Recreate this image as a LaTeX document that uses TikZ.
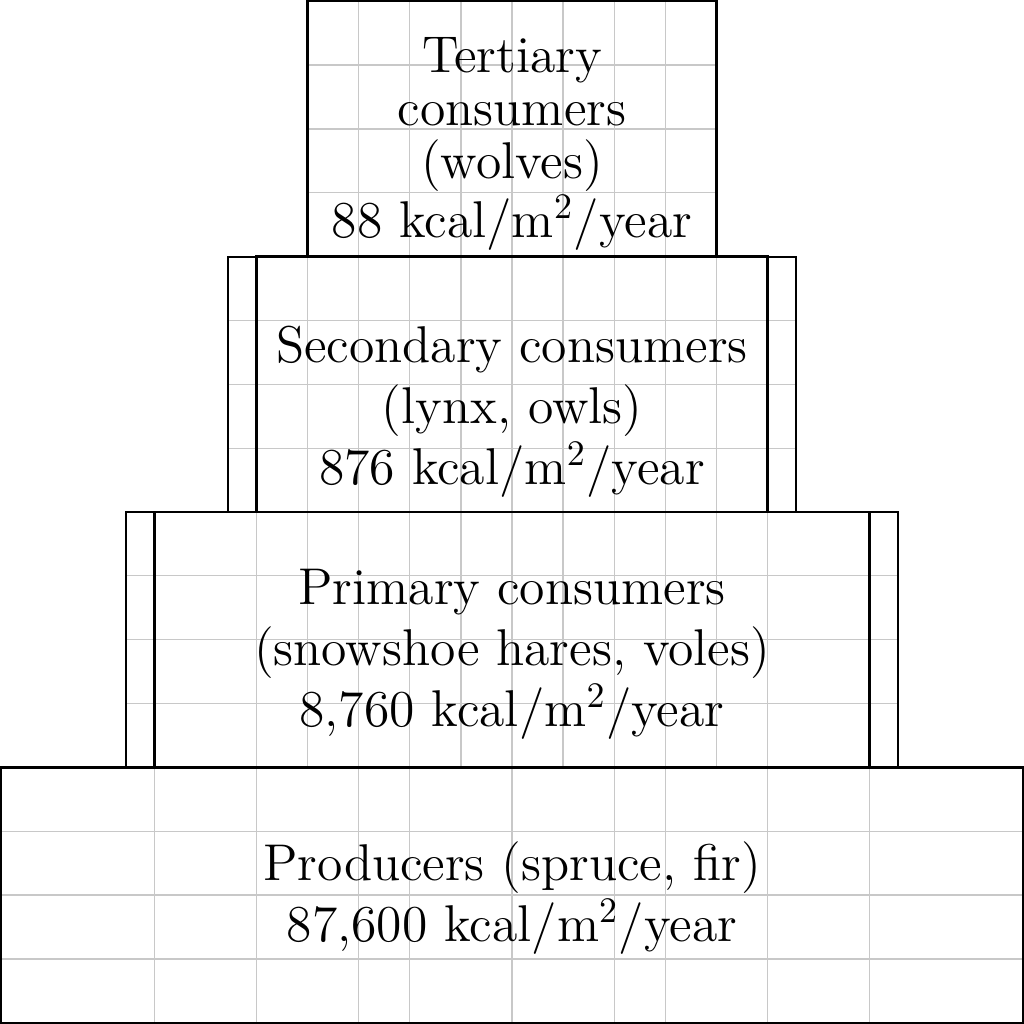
\documentclass[tikz,border=0pt]{standalone}
\usetikzlibrary{positioning}
\definecolor{gridc}{RGB}{200,200,200}
\tikzset{
  gridline/.style={draw=gridc, line width=0.35pt},
  tier/.style={draw=black, line width=0.7pt, rectangle, inner sep=0pt, fill=none},
  outertier/.style={draw=black, line width=0.55pt, rectangle, inner sep=0pt, fill=none},
  label/.style={align=center, font=\fontsize{14.4}{17}\selectfont, inner sep=0pt},
  tightlabel/.style={align=center, font=\fontsize{14.4}{14.8}\selectfont, inner sep=0pt}
}
\begin{document}
\begin{tikzpicture}
\useasboundingbox (-0.012,-0.012) rectangle (10.012,10.012);
% ---------- grid lines ----------
% tertiary
\foreach \x in {3.5,4,...,6.5} \draw[gridline] (\x,7.5) -- (\x,10);
\foreach \y in {8.125,8.75,9.375} \draw[gridline] (3,\y) -- (7,\y);
% secondary
\foreach \x in {3,3.5,...,7} \draw[gridline] (\x,5) -- (\x,7.5);
\foreach \y in {5.625,6.25,6.875} \draw[gridline] (2.222,\y) -- (7.778,\y);
% primary
\foreach \x in {2.5,3,...,7.5} \draw[gridline] (\x,2.5) -- (\x,5);
\foreach \y in {3.125,3.75,4.375} \draw[gridline] (1.224,\y) -- (8.776,\y);
% producers
\foreach \x in {1.5,2.5,3.5,4,5,6,6.5,7.5,8.5} \draw[gridline] (\x,0) -- (\x,2.5);
\foreach \y in {0.625,1.25,1.875} \draw[gridline] (0,\y) -- (10,\y);
% ---------- boxes ----------
\node[outertier, minimum width=5.556cm, minimum height=2.5cm] (secout) at (5,6.25) {};
\node[outertier, minimum width=7.552cm, minimum height=2.5cm] (priout) at (5,3.75) {};
\node[tier, minimum width=4cm, minimum height=2.5cm] (tert) at (5,8.75) {};
\node[tier, minimum width=5cm, minimum height=2.5cm] (sec) at (5,6.25) {};
\node[tier, minimum width=7cm, minimum height=2.5cm] (pri) at (5,3.75) {};
\node[tier, minimum width=10cm, minimum height=2.5cm] (prod) at (5,1.25) {};
% ---------- texts ----------
\node[tightlabel] (terttext) at (5,8.605) {Tertiary\\consumers\\(wolves)\\88 kcal/m$^2$/year};
\node[label] (sectext) at (5,5.98) {Secondary consumers\\(lynx, owls)\\876 kcal/m$^2$/year};
\node[label] (pritext) at (5,3.61) {Primary consumers\\(snowshoe hares, voles)\\8,760 kcal/m$^2$/year};
\node[label] (prodtext) at (5,1.22) {Producers (spruce, fir)\\87,600 kcal/m$^2$/year};
\end{tikzpicture}
\end{document}
